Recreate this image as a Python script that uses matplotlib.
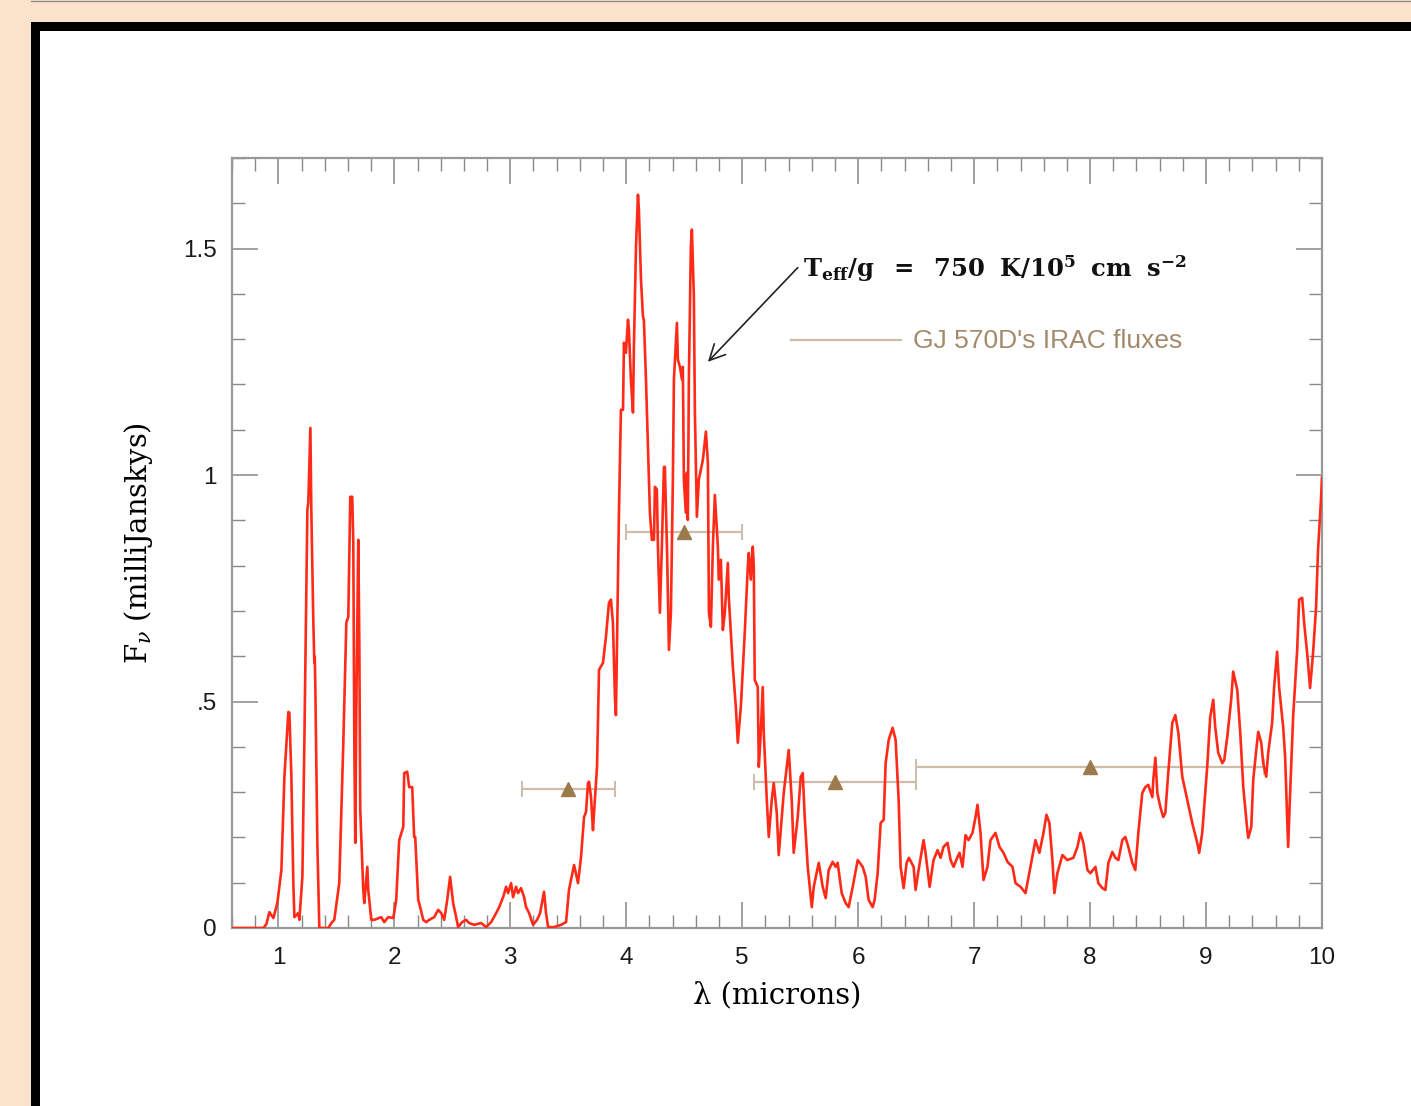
import matplotlib
matplotlib.use("Agg")
import matplotlib.pyplot as plt
from matplotlib.patches import Rectangle
from matplotlib.lines import Line2D
from matplotlib.ticker import MultipleLocator, FixedLocator, FuncFormatter

# Model spectrum: wavelength (microns) and flux density F_nu (mJy)
wavelength = [
    0.600, 0.871, 0.897, 0.922, 0.957, 0.991, 1.026, 1.052, 1.086, 1.095,
    1.112, 1.129, 1.138, 1.172, 1.181, 1.207, 1.224, 1.250, 1.258, 1.276,
    1.284, 1.301, 1.310, 1.314, 1.319, 1.336, 1.353, 1.431, 1.457, 1.482,
    1.525, 1.560, 1.586, 1.603, 1.620, 1.637, 1.646, 1.655, 1.663, 1.672,
    1.689, 1.698, 1.706, 1.732, 1.741, 1.767, 1.775, 1.801, 1.827, 1.887,
    1.913, 1.947, 1.991, 2.016, 2.042, 2.077, 2.085, 2.111, 2.128, 2.154,
    2.171, 2.180, 2.206, 2.223, 2.249, 2.275, 2.301, 2.344, 2.378, 2.404,
    2.430, 2.456, 2.481, 2.507, 2.533, 2.550, 2.585, 2.619, 2.645, 2.688,
    2.748, 2.792, 2.835, 2.878, 2.904, 2.938, 2.964, 2.981, 3.007, 3.024,
    3.050, 3.067, 3.093, 3.119, 3.136, 3.162, 3.196, 3.231, 3.257, 3.291,
    3.308, 3.326, 3.377, 3.438, 3.481, 3.506, 3.550, 3.584, 3.610, 3.636,
    3.653, 3.670, 3.679, 3.696, 3.713, 3.722, 3.748, 3.765, 3.799, 3.825,
    3.851, 3.868, 3.885, 3.903, 3.911, 3.937, 3.954, 3.972, 3.980, 3.997,
    4.015, 4.023, 4.040, 4.058, 4.066, 4.084, 4.101, 4.109, 4.127, 4.144,
    4.152, 4.170, 4.187, 4.204, 4.221, 4.239, 4.247, 4.264, 4.273, 4.290,
    4.307, 4.325, 4.333, 4.351, 4.368, 4.385, 4.402, 4.411, 4.437, 4.445,
    4.463, 4.480, 4.488, 4.497, 4.514, 4.523, 4.531, 4.540, 4.557, 4.566,
    4.583, 4.592, 4.609, 4.626, 4.661, 4.687, 4.704, 4.713, 4.730, 4.747,
    4.764, 4.790, 4.798, 4.816, 4.833, 4.850, 4.876, 4.884, 4.919, 4.945,
    4.962, 4.988, 5.022, 5.048, 5.057, 5.074, 5.091, 5.100, 5.108, 5.134,
    5.143, 5.160, 5.177, 5.186, 5.212, 5.229, 5.255, 5.272, 5.298, 5.315,
    5.332, 5.358, 5.384, 5.401, 5.427, 5.444, 5.479, 5.505, 5.522, 5.539,
    5.565, 5.600, 5.617, 5.660, 5.694, 5.720, 5.746, 5.780, 5.806, 5.823,
    5.858, 5.892, 5.918, 5.953, 5.996, 6.039, 6.065, 6.090, 6.125, 6.142,
    6.168, 6.194, 6.220, 6.237, 6.263, 6.297, 6.323, 6.349, 6.366, 6.392,
    6.418, 6.438, 6.478, 6.495, 6.521, 6.564, 6.581, 6.616, 6.650, 6.685,
    6.711, 6.736, 6.771, 6.797, 6.823, 6.857, 6.874, 6.900, 6.926, 6.952,
    6.986, 7.012, 7.029, 7.055, 7.081, 7.115, 7.141, 7.184, 7.219, 7.253,
    7.288, 7.331, 7.357, 7.400, 7.443, 7.486, 7.529, 7.563, 7.598, 7.624,
    7.649, 7.675, 7.692, 7.718, 7.761, 7.804, 7.856, 7.891, 7.916, 7.942,
    7.977, 8.003, 8.046, 8.071, 8.106, 8.132, 8.158, 8.192, 8.218, 8.244,
    8.278, 8.304, 8.330, 8.364, 8.390, 8.416, 8.450, 8.476, 8.502, 8.537,
    8.545, 8.563, 8.580, 8.606, 8.631, 8.649, 8.674, 8.709, 8.735, 8.761,
    8.795, 8.838, 8.881, 8.924, 8.941, 8.967, 9.010, 9.036, 9.062, 9.079,
    9.105, 9.140, 9.157, 9.183, 9.217, 9.234, 9.269, 9.295, 9.321, 9.356,
    9.364, 9.390, 9.407, 9.433, 9.450, 9.476, 9.493, 9.519, 9.536, 9.570,
    9.587, 9.613, 9.630, 9.665, 9.682, 9.699, 9.708, 9.725, 9.751, 9.786,
    9.803, 9.829, 9.846, 9.872, 9.897, 9.923, 9.949, 9.966, 9.991, 10.000,
]
flux = [
    0.000, 0.000, 0.009, 0.035, 0.022, 0.055, 0.128, 0.334, 0.477, 0.475,
    0.334, 0.099, 0.024, 0.033, 0.018, 0.113, 0.409, 0.923, 0.939, 1.104,
    0.923, 0.680, 0.585, 0.599, 0.526, 0.188, 0.000, 0.000, 0.011, 0.018,
    0.099, 0.409, 0.674, 0.687, 0.952, 0.952, 0.850, 0.409, 0.188, 0.482,
    0.857, 0.630, 0.261, 0.084, 0.055, 0.135, 0.084, 0.018, 0.018, 0.024,
    0.013, 0.024, 0.022, 0.062, 0.194, 0.223, 0.342, 0.345, 0.311, 0.311,
    0.201, 0.201, 0.062, 0.046, 0.018, 0.013, 0.018, 0.024, 0.040, 0.033,
    0.018, 0.062, 0.113, 0.055, 0.024, 0.002, 0.013, 0.018, 0.011, 0.007,
    0.011, 0.002, 0.013, 0.033, 0.046, 0.068, 0.091, 0.077, 0.099, 0.068,
    0.091, 0.077, 0.088, 0.068, 0.046, 0.033, 0.007, 0.018, 0.033, 0.080,
    0.033, 0.002, 0.002, 0.007, 0.013, 0.084, 0.139, 0.099, 0.157, 0.245,
    0.256, 0.320, 0.323, 0.289, 0.216, 0.254, 0.356, 0.570, 0.585, 0.643,
    0.718, 0.725, 0.674, 0.504, 0.470, 0.917, 1.144, 1.144, 1.292, 1.270,
    1.343, 1.321, 1.211, 1.138, 1.283, 1.504, 1.619, 1.586, 1.431, 1.350,
    1.343, 1.211, 1.063, 0.917, 0.857, 0.857, 0.974, 0.968, 0.842, 0.696,
    0.842, 1.018, 1.018, 0.842, 0.614, 0.696, 0.990, 1.211, 1.336, 1.255,
    1.239, 1.211, 1.239, 0.990, 0.917, 1.005, 0.901, 1.211, 1.504, 1.542,
    1.394, 1.138, 0.908, 0.990, 1.034, 1.096, 1.027, 0.696, 0.665, 0.842,
    0.956, 0.842, 0.769, 0.813, 0.658, 0.696, 0.806, 0.731, 0.577, 0.488,
    0.409, 0.488, 0.652, 0.797, 0.828, 0.769, 0.842, 0.797, 0.548, 0.532,
    0.356, 0.431, 0.532, 0.431, 0.283, 0.201, 0.283, 0.320, 0.254, 0.161,
    0.216, 0.298, 0.356, 0.393, 0.283, 0.166, 0.245, 0.334, 0.342, 0.245,
    0.135, 0.046, 0.091, 0.144, 0.091, 0.066, 0.128, 0.146, 0.135, 0.144,
    0.077, 0.055, 0.046, 0.091, 0.150, 0.135, 0.113, 0.062, 0.046, 0.062,
    0.121, 0.232, 0.239, 0.364, 0.415, 0.442, 0.415, 0.283, 0.135, 0.088,
    0.144, 0.155, 0.135, 0.084, 0.128, 0.194, 0.166, 0.091, 0.150, 0.172,
    0.155, 0.179, 0.188, 0.150, 0.135, 0.157, 0.166, 0.135, 0.205, 0.194,
    0.210, 0.245, 0.272, 0.210, 0.106, 0.135, 0.194, 0.210, 0.179, 0.166,
    0.146, 0.135, 0.099, 0.091, 0.077, 0.135, 0.194, 0.166, 0.210, 0.250,
    0.232, 0.150, 0.077, 0.121, 0.161, 0.150, 0.155, 0.179, 0.210, 0.188,
    0.128, 0.121, 0.135, 0.099, 0.088, 0.084, 0.144, 0.168, 0.155, 0.150,
    0.194, 0.201, 0.179, 0.144, 0.128, 0.210, 0.298, 0.311, 0.316, 0.289,
    0.327, 0.376, 0.298, 0.267, 0.245, 0.254, 0.342, 0.453, 0.470, 0.431,
    0.334, 0.283, 0.232, 0.188, 0.166, 0.210, 0.356, 0.466, 0.504, 0.444,
    0.387, 0.364, 0.371, 0.422, 0.504, 0.566, 0.526, 0.431, 0.311, 0.216,
    0.199, 0.223, 0.327, 0.393, 0.433, 0.409, 0.364, 0.334, 0.387, 0.453,
    0.532, 0.610, 0.532, 0.444, 0.378, 0.245, 0.179, 0.298, 0.466, 0.614,
    0.725, 0.729, 0.674, 0.607, 0.530, 0.607, 0.709, 0.835, 0.945, 0.994,
]

# IRAC photometry: band centres, fluxes and band edges (microns)
irac_wave = [3.5, 4.5, 5.8, 8.0]
irac_flux = [0.307, 0.875, 0.323, 0.356]
irac_lo = [3.1, 4.0, 5.1, 6.5]
irac_hi = [3.9, 5.0, 6.5, 9.5]

x_ticks = [1, 2, 3, 4, 5, 6, 7, 8, 9, 10]
y_ticks = [0, 0.5, 1.0, 1.5]
y_tick_labels = ["0", ".5", "1", "1.5"]

W, H = 1411, 1106
BG = "#FAE3CA"
SPEC = "#FF2A18"
BAR = "#CDBCA8"
TRI = "#9C7A4C"
LEG_TXT = "#A38A6C"
AXIS = "#999999"

plt.rcParams["mathtext.fontset"] = "dejavuserif"

fig = plt.figure(figsize=(W / 100, H / 100), dpi=100, facecolor=BG)

# black panel border with white interior
fig.add_artist(Rectangle((31 / W, 0), 1.0, 1 - 22 / H, transform=fig.transFigure,
                         facecolor="black", edgecolor="none", zorder=0))
fig.add_artist(Rectangle((40 / W, 0), 1.0, 1 - 31 / H, transform=fig.transFigure,
                         facecolor="white", edgecolor="none", zorder=0))
fig.add_artist(Line2D([31 / W, 1], [1 - 0.8 / H] * 2, transform=fig.transFigure,
                      color="#888888", lw=0.9))

ax = fig.add_axes([232 / W, 1 - 928 / H, (1322 - 232) / W, (928 - 158) / H])
ax.set_xlim(0.6, 10.0)
ax.set_ylim(0, 1.7)

ax.plot(wavelength, flux, color=SPEC, lw=1.9, zorder=3)

xerr = [[w - lo for w, lo in zip(irac_wave, irac_lo)],
        [hi - w for w, hi in zip(irac_wave, irac_hi)]]
ax.errorbar(irac_wave, irac_flux, xerr=xerr, fmt="none", ecolor=BAR,
            elinewidth=1.6, capsize=5.5, capthick=1.4, zorder=2)
ax.plot(irac_wave, irac_flux, linestyle="none", marker="^", markersize=10,
        color=TRI, zorder=4)

# axes styling
for sp in ax.spines.values():
    sp.set_color(AXIS)
    sp.set_linewidth(1.6)
ax.xaxis.set_major_locator(FixedLocator(x_ticks))
ax.xaxis.set_minor_locator(MultipleLocator(0.2))
ax.yaxis.set_major_locator(FixedLocator(y_ticks))
ax.yaxis.set_minor_locator(MultipleLocator(0.1))
ax.yaxis.set_major_formatter(FuncFormatter(lambda v, p: y_tick_labels[y_ticks.index(round(v, 1))]
                                           if round(v, 1) in y_ticks else ""))
ax.tick_params(which="both", direction="in", top=True, right=True, color="#888888")
ax.tick_params(which="major", length=19, width=1.1, labelsize=17.5, pad=11,
               labelcolor="#1a1a1a", labelfontfamily="Liberation Sans")
ax.tick_params(which="minor", length=9.5, width=1.0)
ax.tick_params(axis="x", which="major", pad=14)

ax.set_xlabel("λ (microns)", fontsize=21, family="DejaVu Serif", va="center")
ax.xaxis.set_label_coords(0.5, -0.087)
ax.set_ylabel(r"F$_\nu$ (milliJanskys)", fontsize=21, family="DejaVu Serif", va="center")
ax.yaxis.set_label_coords(-0.0862, 0.5)

# model label with arrow
ax.annotate("", xy=(4.704, 1.250), xytext=(5.479, 1.458),
            arrowprops=dict(arrowstyle="->", color="#222222", lw=1.2,
                            mutation_scale=28, shrinkA=0, shrinkB=0))
ax.text(5.52, 1.455,
        r"$\mathbf{T_{eff}/g\ \ =\ \ 750\ \ K/10^5\ \ cm\ \ s^{-2}}$",
        fontsize=17.5, ha="left", va="center", color="#111111")

# legend entry for the photometry
ax.plot([5.419, 6.366], [1.299, 1.299], color=BAR, lw=1.6)
ax.text(6.469, 1.296, "GJ 570D's IRAC fluxes", fontsize=19,
        family="Liberation Sans", color=LEG_TXT, ha="left", va="center")

fig.savefig("out.png", dpi=100, facecolor=BG)
